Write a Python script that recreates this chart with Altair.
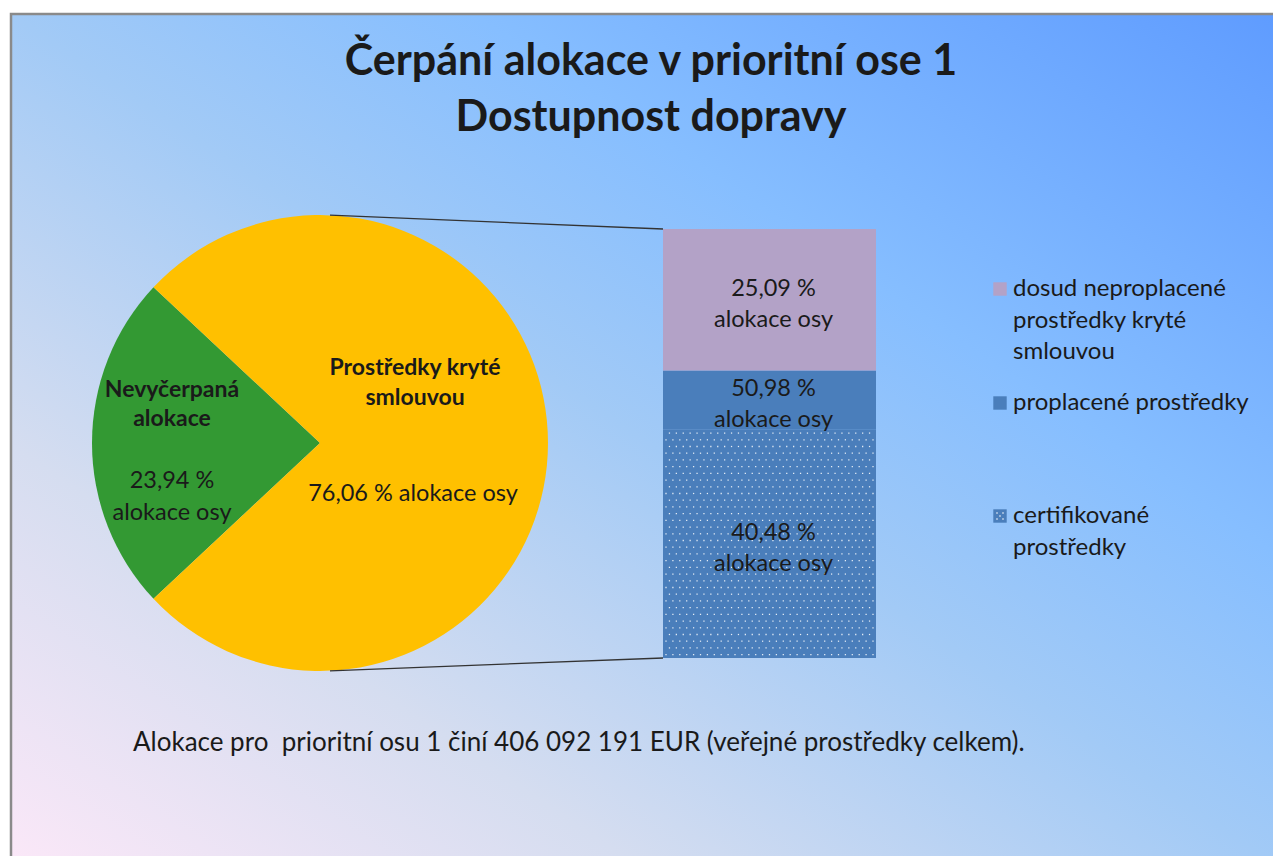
import math
import altair as alt
import pandas as pd

# ---------------- data ----------------
pie_categories = ["Nevyčerpaná alokace", "Prostředky kryté smlouvou"]
pie_values = [23.94, 76.06]
pie_colors = ["#339933", "#FFC000"]

bar_categories = ["certifikované prostředky", "proplacené prostředky",
                  "dosud neproplacené prostředky kryté smlouvou"]
bar_values = [40.48, 10.50, 25.09]          # stacked segment sizes (% of axis allocation)
bar_labels = ["40,48 %\nalokace osy", "50,98 %\nalokace osy", "25,09 %\nalokace osy"]
bar_colors = ["#4A7EBB", "#4A7EBB", "#B3A2C7"]

legend_items = ["dosud neproplacené\nprostředky kryté\nsmlouvou",
                "proplacené prostředky",
                "certifikované\nprostředky"]
legend_colors = ["#B3A2C7", "#4A7EBB", "#4A7EBB"]

title_lines = ["Čerpání alokace v prioritní ose 1", "Dostupnost dopravy"]
footnote = "Alokace pro  prioritní osu 1 činí 406 092 191 EUR (veřejné prostředky celkem)."

# ---------------- layout ----------------
W, H = 1265, 848
OFF = 8
FONT = "Lato"
TXT = "#1a1a1a"

PCX, PCY, PR = 320 - OFF, 443 - OFF, 228
BX0, BX1 = 663 - OFF, 876 - OFF
BTOP, BBOT = 229 - OFF, 658 - OFF
total = sum(bar_values)

# background with diagonal gradient
bg = alt.Chart(alt.Data(values=[{}])).mark_rect(
    fill=alt.LinearGradient(
        gradient="linear",
        x1=0, y1=1, x2=1, y2=0,
        stops=[
            alt.GradientStop(color="#FCE8F8", offset=0),
            alt.GradientStop(color="#D5DDF0", offset=0.25),
            alt.GradientStop(color="#A2CAF6", offset=0.5),
            alt.GradientStop(color="#86BEFF", offset=0.68),
            alt.GradientStop(color="#5E9BFF", offset=1),
        ],
    ),
    stroke="#8a8a8a", strokeWidth=2.5,
).encode(x=alt.value(3), x2=alt.value(W + 20), y=alt.value(6), y2=alt.value(H + 20))

# pie
pie_df = pd.DataFrame({"cat": pie_categories, "value": pie_values,
                       "color": pie_colors, "idx": [0, 1]})
a0 = 1.5 * math.pi - math.pi * pie_values[0] / 100.0
pie = alt.Chart(pie_df).mark_arc(radius=PR).encode(
    theta=alt.Theta("value:Q", stack=True,
                    scale=alt.Scale(range=[a0, a0 + 2 * math.pi])),
    order=alt.Order("idx:Q"),
    color=alt.Color("color:N", scale=None, legend=None),
    x=alt.value(PCX), y=alt.value(PCY),
)

# stacked bar (explicit stack)
bar_df = pd.DataFrame({"cat": bar_categories, "value": bar_values,
                       "label": bar_labels, "color": bar_colors, "idx": [0, 1, 2]})
yscale = alt.Scale(domain=[0, total], range=[BBOT, BTOP], nice=False, zero=False)
stacked = alt.Chart(bar_df).transform_stack(
    stack="value", groupby=[], as_=["y0", "y1"], sort=[alt.SortField("idx")]
)
bar = stacked.mark_rect().encode(
    y=alt.Y("y0:Q", scale=yscale, axis=None),
    y2="y1:Q",
    color=alt.Color("color:N", scale=None, legend=None),
    x=alt.value(BX0), x2=alt.value(BX1),
)

# dotted texture on certified segment
NR, NC = 34, 31
dots = alt.Chart(alt.sequence(0, NR * NC, as_="i")).transform_calculate(
    row=f"floor(datum.i / {NC})",
    col=f"datum.i % {NC}",
).transform_calculate(
    yv=f"(datum.row + 0.5) * {bar_values[0]} / {NR}",
    px=f"{BX0 + 3} + datum.col * 6.9 + (datum.row % 2) * 3.45",
).transform_filter(f"datum.px < {BX1 - 1}").mark_square(
    size=1.6, color="white", opacity=0.85
).encode(
    y=alt.Y("yv:Q", scale=yscale, axis=None),
    x=alt.X("px:Q", scale=alt.Scale(domain=[0, W], range=[0, W]), axis=None),
)

bar_text = stacked.transform_calculate(mid="(datum.y0 + datum.y1) / 2").mark_text(
    font=FONT, fontSize=23.5, color=TXT, lineBreak="\n", lineHeight=31,
    baseline="middle", dy=-11
).encode(
    y=alt.Y("mid:Q", scale=yscale, axis=None),
    x=alt.value((BX0 + BX1) / 2 + 4),
    text="label:N",
)

# leader lines
ang = math.asin(10 / PR)
lx = PCX + PR * math.sin(ang)
lines = alt.layer(
    alt.Chart(alt.Data(values=[{}])).mark_rule(color="#333333", strokeWidth=1.3).encode(
        x=alt.value(lx), y=alt.value(PCY - PR * math.cos(ang)),
        x2=alt.value(BX0), y2=alt.value(BTOP)),
    alt.Chart(alt.Data(values=[{}])).mark_rule(color="#333333", strokeWidth=1.3).encode(
        x=alt.value(lx), y=alt.value(PCY + PR * math.cos(ang)),
        x2=alt.value(BX0), y2=alt.value(BBOT)),
)


def txt(s, x, y, size=23.5, bold=False, align="center", lh=None):
    kw = dict(text=s, font=FONT, fontSize=size, color=TXT, align=align,
              baseline="middle", fontWeight="bold" if bold else "normal")
    if lh:
        kw.update(lineBreak="\n", lineHeight=lh)
    return alt.Chart(alt.Data(values=[{}])).mark_text(**kw).encode(
        x=alt.value(x - OFF), y=alt.value(y - OFF))


texts = [
    txt(title_lines[0], 651, 62, size=43, bold=True),
    txt(title_lines[1], 651, 118, size=43, bold=True),
    txt("Nevyčerpaná\nalokace", 172, 390, size=23, bold=True, lh=29),
    txt("23,94 %\nalokace osy", 172, 481, size=23.5, lh=32),
    txt("Prostředky kryté\nsmlouvou", 415, 368, size=23, bold=True, lh=30),
    txt("76,06 % alokace osy", 413, 494, size=23.5),
    txt(footnote.replace("  ", "\u00a0 "), 133, 743, size=26, align="left"),
]

legend_y = [289, 403, 516]
legend_layers = []
for k, (item, col, ly) in enumerate(zip(legend_items, legend_colors, legend_y)):
    legend_layers.append(
        alt.Chart(alt.Data(values=[{}])).mark_square(size=180, color=col, opacity=1).encode(
            x=alt.value(1000 - OFF), y=alt.value(ly - OFF)))
    if k == 2:  # dotted swatch for the textured series
        for ddx, ddy in [(-3, -3), (3, -3), (0, 0), (-3, 3), (3, 3)]:
            legend_layers.append(
                alt.Chart(alt.Data(values=[{}])).mark_square(
                    size=1.6, color="white", opacity=0.9).encode(
                    x=alt.value(1000 - OFF + ddx), y=alt.value(ly - OFF + ddy)))
    legend_layers.append(
        alt.Chart(alt.Data(values=[{}])).mark_text(
            text=item, font=FONT, fontSize=24, color=TXT, align="left",
            baseline="middle", lineBreak="\n", lineHeight=31.5
        ).encode(x=alt.value(1013 - OFF), y=alt.value(ly - OFF)))

chart = alt.layer(bg, pie, bar, dots, bar_text, lines, *texts, *legend_layers).properties(
    width=W, height=H, padding=0, autosize=alt.AutoSizeParams(type="none")
).configure_view(strokeWidth=0)

chart.save("out.html", embed_options={"renderer": "svg", "actions": False})
